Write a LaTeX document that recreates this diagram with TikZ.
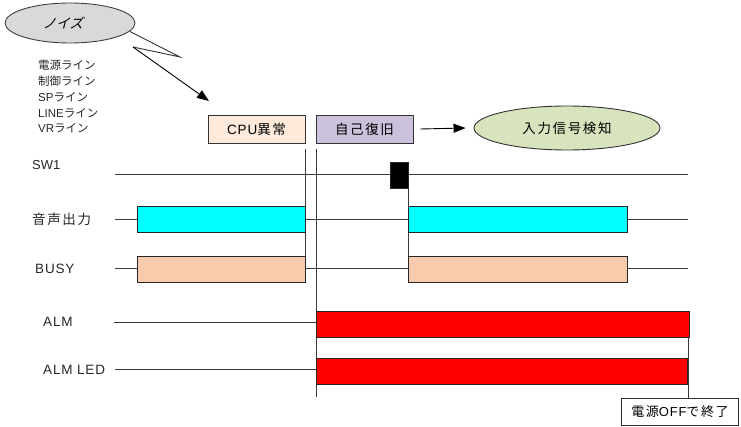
\documentclass[tikz,border=0pt]{standalone}
\usepackage{fontspec}
\setmainfont{Noto Sans CJK JP}
\newfontfamily\jp{Noto Sans CJK JP}[LetterSpace=12]
\newfontfamily\jpn{Noto Sans CJK JP}
\newfontfamily\jpsl{Noto Sans CJK JP}[FakeSlant=0.25]
\newfontfamily\lat{Liberation Sans}[LetterSpace=6]
\newfontfamily\latn{Liberation Sans}
\usetikzlibrary{shapes.geometric,arrows.meta}
\newcommand\fsz[1]{\fontsize{#1}{#1}\selectfont}
\definecolor{linegray}{HTML}{3A3A3A}
\definecolor{noisec}{HTML}{D9D9D9}
\definecolor{cpuc}{HTML}{FDEADA}
\definecolor{recc}{HTML}{CCC1DA}
\definecolor{detc}{HTML}{D7E4BD}
\definecolor{voicec}{HTML}{00FFFF}
\definecolor{busyc}{HTML}{F8CBAD}
\definecolor{almc}{HTML}{FF0000}
\begin{document}
\begin{tikzpicture}[x=1pt,y=-1pt,
  sig/.style={draw=linegray, line width=0.9pt},
  bar/.style={draw=black!85, line width=0.9pt, inner sep=0pt, outer sep=0pt, anchor=north west},
  tbox/.style={draw=black!80, line width=0.9pt, inner sep=0pt, minimum height=28pt},
  lbl/.style={anchor=west, inner sep=0pt, text=black!85},
  small/.style={anchor=west, inner sep=0pt, text=black!85, font=\jpn\fsz{11.5}},
  arr/.style={draw=black, line width=0.9pt, -{Triangle[length=12pt,width=9pt]}}
]
\useasboundingbox (0,0) rectangle (741,427);

% noise ellipse and lightning
\node[ellipse, draw=black!75, line width=0.9pt, fill=noisec, minimum width=130pt, minimum height=40pt, inner sep=0pt] (noise) at (70,23) {\jpsl\fsz{13.5}ノイズ\hspace*{14pt}};
\coordinate (z1) at (180,57);
\coordinate (z2) at (133,47);
\coordinate (hit) at (209,101);
\draw[line width=0.9pt, black!80] (noise.-8) -- (z1) -- (z2);
\draw[arr] (z2) -- (hit);

% noise source list
\node[small] (l1) at (38,65) {電源ライン};
\node[small] (l2) at (38,81) {制御ライン};
\node[small] (l3) at (38,97) {{\latn SP}ライン};
\node[small] (l4) at (38,113) {{\latn LINE}ライン};
\node[small] (l5) at (38,128) {{\latn VR}ライン};

% state boxes
\node[tbox, fill=cpuc, minimum width=97pt] (cpu) at (256.5,129) {{\lat\fsz{13.5}CPU}{\jp\fsz{13.5}異常}};
\node[tbox, fill=recc, minimum width=97pt] (rec) at (364.5,129) {\jp\fsz{13.5}自己復旧};
\node[ellipse, draw=black!80, line width=0.9pt, fill=detc, minimum width=186pt, minimum height=44pt, inner sep=0pt] (det) at (567,128) {\jp\fsz{13.5}入力信号検知};
\draw[arr] ([xshift=7pt]rec.east) -- ([xshift=-8pt]det.west);

% signal labels
\node[lbl, font=\latn\fsz{13}] (sw1l) at (32,165) {SW1};
\node[lbl, font=\jp\fsz{13.5}] (voil) at (32,219) {音声出力};
\node[lbl, font=\lat\fsz{13.5}] (busl) at (35,269) {BUSY};
\node[lbl, font=\lat\fsz{13.5}] (alml) at (43,322) {ALM};
\node[lbl, font=\lat\fsz{13.5}] (ledl) at (43,370) {ALM LED};

% vertical markers
\coordinate (m1t) at (305,149);
\coordinate (m1b) at (305,256);
\coordinate (m2t) at (316,149);
\coordinate (m2b) at (316,397);
\draw[sig] (m1t) -- (m1b);
\draw[sig] (m2t) -- (m2b);

% SW1
\coordinate (sws) at (115,174);
\coordinate (swe) at (688,174);
\draw[sig] (sws) -- (swe);
\node[bar, fill=black, minimum width=18pt, minimum height=26pt] (pulse) at (390,162) {};
\coordinate (swd) at (408,256);
\draw[sig] (pulse.south east) -- (swd);

% voice output
\coordinate (vs) at (115,219);
\coordinate (ve) at (688,219);
\node[bar, fill=voicec, minimum width=168pt, minimum height=26pt] (v1) at (137,206) {};
\node[bar, fill=voicec, minimum width=219pt, minimum height=26pt] (v2) at (408,206) {};
\draw[sig] (vs) -- (v1.west |- vs);
\draw[sig] (v1.east |- vs) -- (v2.west |- vs);
\draw[sig] (v2.east |- vs) -- (ve);

% BUSY
\coordinate (bs) at (115,268);
\coordinate (be) at (688,268);
\node[bar, fill=busyc, minimum width=168pt, minimum height=26pt] (b1) at (137,256) {};
\node[bar, fill=busyc, minimum width=219pt, minimum height=26pt] (b2) at (408,256) {};
\draw[sig] (bs) -- (b1.west |- bs);
\draw[sig] (b1.east |- bs) -- (b2.west |- bs);
\draw[sig] (b2.east |- bs) -- (be);

% ALM
\coordinate (as) at (114,322);
\node[bar, fill=almc, minimum width=373pt, minimum height=26pt] (a1) at (316,311) {};
\draw[sig] (as) -- (a1.west |- as);

% ALM LED
\coordinate (ls) at (115,369);
\node[bar, fill=almc, minimum width=371pt, minimum height=26pt] (a2) at (316,358) {};
\draw[sig] (ls) -- (a2.west |- ls);

% end marker
\node[draw=black!80, line width=0.9pt, fill=white, anchor=north west, minimum width=117pt, minimum height=27pt, inner sep=0pt] (endb) at (621,398) {\jp\fsz{13}電源{\lat OFF}で終了};
\coordinate (et) at (688,338);
\draw[sig] (et) -- (endb.north -| et);
\end{tikzpicture}
\end{document}
